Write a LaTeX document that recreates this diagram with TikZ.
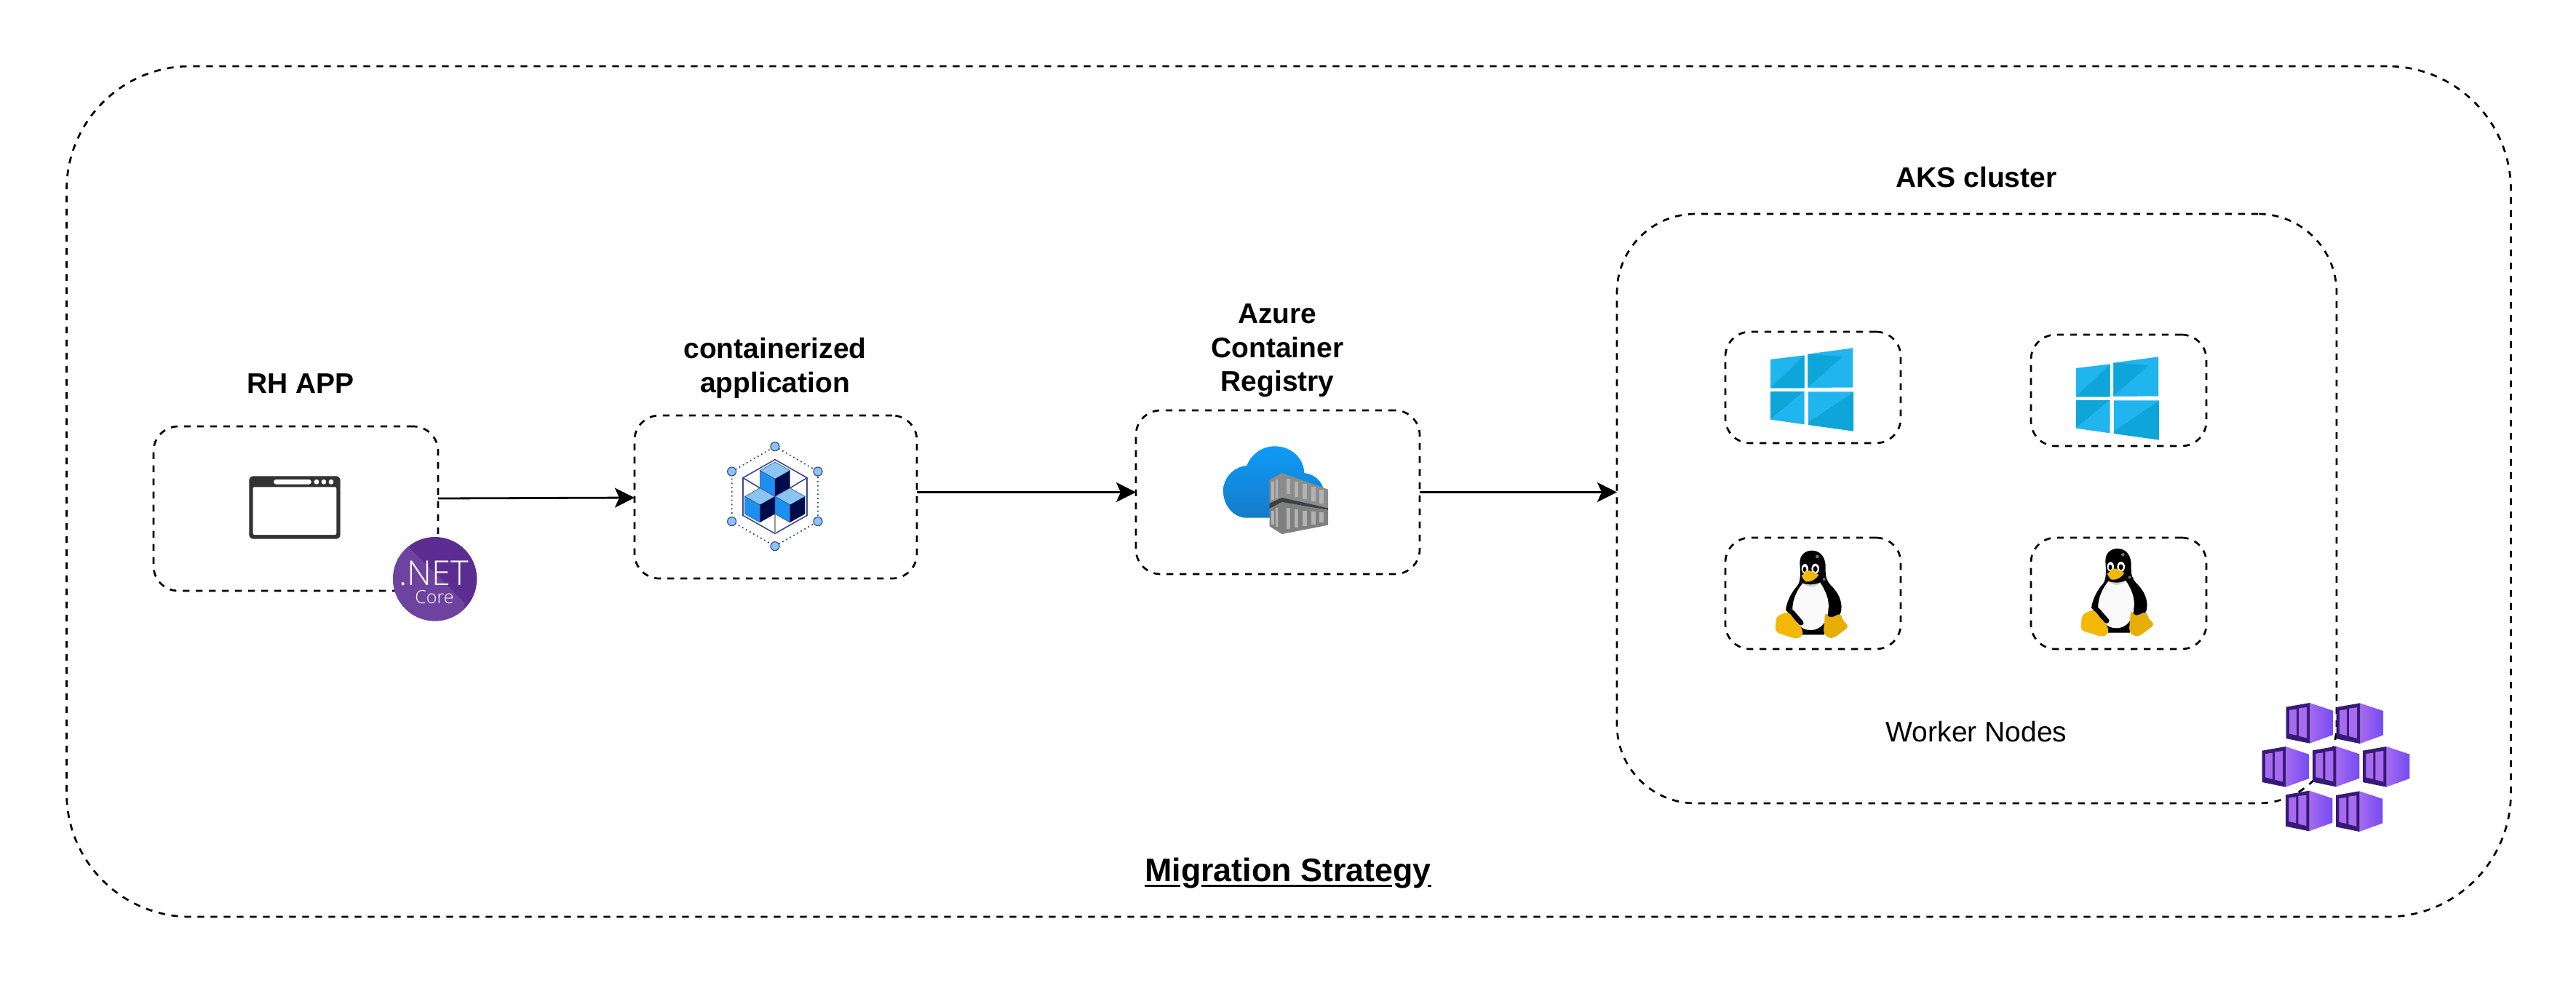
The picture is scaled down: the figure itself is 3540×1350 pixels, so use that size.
\documentclass[tikz,border=0pt]{standalone}
\usepackage{fontspec}
\setmainfont{Liberation Sans}
\newfontfamily\netfont{Open Sans Light}
\usetikzlibrary{arrows.meta}
\definecolor{winlight}{HTML}{20B5EF}
\definecolor{windark}{HTML}{0EA5D8}
\definecolor{netdark}{HTML}{5C2D91}
\definecolor{netlight}{HTML}{6E43A0}
\definecolor{cubelight}{HTML}{8AC4F5}
\definecolor{cubeblue}{HTML}{1B90EE}
\definecolor{cubenavy}{HTML}{000B4A}
\definecolor{hexline}{HTML}{3C4A8A}
\definecolor{kubedark}{HTML}{361A75}
\definecolor{kubeslat}{HTML}{A66BEE}
\definecolor{tuxgold}{HTML}{F3B706}
\tikzset{
  dashbox/.style={draw,rounded corners=#1,line width=1.35pt,dash pattern=on 4.6pt off 4.4pt,
    outer sep=0pt,inner sep=0pt},
  boldlabel/.style={font=\fontsize{19.5}{23.2}\selectfont\bfseries,align=center},
  winicon/.pic={
    \begin{scope}[scale=1/3]
      % panes
      \fill[winlight] (219,162) -- (359,145) -- (359,280) -- (219,280) -- cycle;
      \fill[windark] (359,145) -- (359,280) -- (219,280) -- cycle;
      \fill[winlight] (373,140) -- (558,115) -- (558,277) -- (373,278) -- cycle;
      \fill[windark] (373,140) -- (373,278) -- (520,150) -- cycle;
      \fill[winlight] (558,115) -- (558,277) -- (373,278) -- cycle;
      \fill[windark] (219,294) -- (359,294) -- (219,410) -- cycle;
      \fill[winlight] (359,294) -- (359,430) -- (219,410) -- cycle;
      \fill[winlight] (375,295) -- (561,295) -- (375,420) -- cycle;
      \fill[windark] (561,295) -- (561,458) -- (375,432) -- (375,420) -- cycle;
    \end{scope}
  },
  tuxicon/.pic={
    \begin{scope}[scale=1/3]
      % body
      \fill[black] (390,950) .. controls (430,950) and (447,985) .. (446,1020)
        .. controls (445,1060) and (450,1075) .. (470,1095)
        .. controls (500,1125) and (515,1160) .. (511,1195)
        .. controls (510,1215) and (495,1230) .. (470,1235)
        -- (440,1297) -- (350,1297) -- (310,1225)
        -- (282,1195) .. controls (285,1160) and (310,1115) .. (330,1095)
        .. controls (345,1075) and (342,1040) .. (340,1000)
        .. controls (340,970) and (360,950) .. (390,950) -- cycle;
      \fill[black!55] (412,975) circle (7);
      \fill[black!55] (440,1068) circle (6);
      % belly
      \fill[white!98!black] (352,1085) .. controls (375,1095) and (400,1095) .. (424,1082)
        .. controls (445,1115) and (462,1150) .. (458,1190)
        .. controls (455,1245) and (425,1278) .. (385,1278)
        .. controls (345,1278) and (320,1250) .. (310,1195)
        .. controls (308,1155) and (330,1110) .. (352,1085) -- cycle;
      \fill[black!18] (352,1085) .. controls (375,1105) and (400,1105) .. (424,1082)
        .. controls (400,1092) and (375,1092) .. (352,1085) -- cycle;
      \draw[black,line width=3.5pt,line cap=round] (308,1205) -- (345,1248);
      \draw[black,line width=3.5pt,line cap=round] (468,1195) -- (490,1215);
      % eyes
      \fill[white] (361,1025) ellipse (14 and 20);
      \fill[white] (404,1025) ellipse (16 and 21);
      \fill[black] (360,1027) ellipse (7 and 11);
      \fill[black] (404,1026) ellipse (9 and 12);
      % beak
      \fill[tuxgold] (347,1053) .. controls (358,1048) and (365,1032) .. (378,1032)
        .. controls (392,1036) and (408,1044) .. (418,1050)
        .. controls (408,1068) and (385,1082) .. (365,1078)
        .. controls (357,1072) and (350,1062) .. (347,1053) -- cycle;
      % feet
      \fill[tuxgold,rounded corners=2.5pt] (243,1222) -- (292,1200)
        .. controls (310,1225) and (335,1255) .. (352,1275)
        -- (352,1304) -- (325,1314) -- (238,1286) -- cycle;
      \fill[tuxgold!95!black,rounded corners=2.5pt] (445,1203) -- (462,1230) -- (510,1208)
        -- (516,1238) -- (544,1262) -- (482,1310) -- (458,1312) -- (437,1290) -- cycle;
    \end{scope}
  },
  kubebox/.pic={
    \begin{scope}[scale=1/3]
      \shade[left color=kubeslat,right color=kubeslat!70!blue] (342,78) -- (438,110) -- (438,210) -- (342,245) -- cycle;
      \fill[kubedark] (245,95) -- (342,78) -- (342,245) -- (245,225) -- cycle;
      \fill[kubeslat] (258,108) -- (288,104) -- (288,212) -- (258,205) -- cycle;
      \fill[kubeslat] (297,100) -- (330,96) -- (330,223) -- (297,215) -- cycle;
    \end{scope}
  }
}
\begin{document}
\begin{tikzpicture}[x=0.5pt,y=-0.5pt,>={Stealth[length=13.5pt,width=13.5pt,inset=3pt]}]
\useasboundingbox (0,0) rectangle (3540,1350);
%migration frame
\node[dashbox=85pt,minimum width=1679.5pt,minimum height=584.5pt] (strategy) at (1771,675.5) {};
\node[font=\fontsize{22.4}{26}\selectfont\bfseries,anchor=base] (strategytxt) at (1770,1211) {Migration Strategy};
\draw[line width=1.5pt] (1572.7,1217) -- (1621.7,1217) (1650.7,1217) -- (1913,1217) (1962,1217) -- (1967,1217);
%app box
\node[dashbox=17pt,minimum width=195.5pt,minimum height=113pt] (rhapp) at (406.5,699) {};
\node[boldlabel] (rhapptxt) at (413,527) {RH APP};
%browser icon
\node[fill=black!80,rounded corners=3pt,minimum width=62.7pt,minimum height=43.2pt,inner sep=0pt] (browser) at (405,697.5) {};
\node[fill=white,rounded corners=1pt,minimum width=57.3pt,minimum height=32.8pt,inner sep=0pt] (browserwin) at (405,702.2) {};
\node[fill=white,rounded corners=1.6pt,minimum width=25.8pt,minimum height=3.3pt,inner sep=0pt] (browserbar) at (402,662.3) {};
\foreach \x in {435,445,455}
  \fill[white] (\x,662.3) circle (3.4);
%net core badge
\node[circle,fill=netdark,minimum size=57.7pt,inner sep=0pt] (netcore) at (597.7,795.7) {};
\begin{scope}
  \clip (597.7,795.7) circle (57.7);
  \fill[netlight] (558,748) -- (638,828) -- (638,860) -- (530,860) -- (530,748) -- cycle;
\end{scope}
\node[text=white,font=\netfont\fontsize{23.5}{24}\selectfont,inner sep=0pt] (nettxt) at (596.5,788) {.NET};
\node[text=white,font=\netfont\fontsize{12.5}{13}\selectfont,inner sep=0pt] (coretxt) at (597,821) {Core};
%container box
\node[dashbox=17pt,minimum width=194pt,minimum height=112pt] (capp) at (1066,683) {};
\node[boldlabel] (capptxt) at (1065,506) {containerized\\application};
%container icon
\begin{scope}[shift={(940,600)},scale=1/3]
  \draw[hexline,dotted,line width=0.9pt] (375,41) -- (552,144) -- (552,350) -- (375,452) -- (197,350) -- (197,144) -- cycle;
  \foreach \x/\y in {375/41,552/144,552/350,375/452,197/350,197/144}
    \filldraw[fill=cubelight,draw=hexline,line width=0.6pt] (\x,\y) circle (18);
  \draw[hexline,line width=0.8pt] (375,95) -- (507,170) -- (507,325) -- (375,400) -- (243,325) -- (243,170) -- cycle;
  \draw[hexline,line width=0.8pt] (243,170) -- (313,212) (507,170) -- (437,212);
  \draw[black!40,line width=1.2pt] (375,320) -- (375,400);
  \foreach \dx/\dy in {0/0,-62/107,62/107}
  {
    \begin{scope}[shift={(\dx,\dy)}]
      \filldraw[fill=cubelight,draw=hexline,line width=0.3pt] (375,105) -- (437,140) -- (375,175) -- (313,140) -- cycle;
      \filldraw[fill=cubeblue,draw=hexline,line width=0.3pt] (313,140) -- (375,175) -- (375,247) -- (313,212) -- cycle;
      \fill[cubenavy] (375,175) -- (437,140) -- (437,212) -- (375,247) -- cycle;
    \end{scope}
  }
\end{scope}
%registry box
\node[dashbox=17pt,minimum width=195pt,minimum height=112.5pt] (acr) at (1756,676.5) {};
\node[boldlabel] (acrtxt) at (1755.5,482) {Azure\\Container\\Registry};
%registry icon
\begin{scope}[shift={(1640,590)},scale=1/3]
  \shade[top color=blue!35!cyan!50!cubeblue,bottom color=cubeblue!85!black]
    (220,150) .. controls (240,100) and (285,70) .. (335,70)
    .. controls (405,70) and (455,120) .. (457,180)
    .. controls (500,185) and (530,215) .. (537,250)
    -- (500,365) -- (215,365)
    .. controls (165,362) and (123,315) .. (123,255)
    .. controls (123,200) and (165,155) .. (220,150) -- cycle;
  \fill[black!45] (314,208) -- (365,180) -- (555,248) -- (555,325) -- (365,282) -- (314,305) -- cycle;
  \fill[black!75] (314,305) -- (365,282) -- (555,325) -- (555,333) -- (365,300) -- (314,327) -- cycle;
  \fill[black!50] (314,327) -- (365,300) -- (555,333) -- (555,395) -- (365,432) -- (314,400) -- cycle;
  \foreach \xa/\xb/\ya/\yb in {383/400/205/268,417/433/215/280,451/469/226/288,486/503/238/298,520/537/248/306}
    \fill[black!30] (\xa,\ya) rectangle (\xb,\yb);
  \foreach \xa/\xb/\ya/\yb in {383/400/325/410,417/433/330/405,451/469/335/398,486/503/338/392,520/537/343/385}
    \fill[black!30] (\xa,\ya) rectangle (\xb,\yb);
  \foreach \xa/\xb/\ya/\yb in {322/332/215/290,338/348/208/285,322/332/335/393,338/348/325/402}
    \fill[black!30] (\xa,\ya) rectangle (\xb,\yb);
\end{scope}
%aks cluster
\node[dashbox=54pt,minimum width=494.5pt,minimum height=405pt] (aks) at (2716.5,699) {};
\node[boldlabel] (akstxt) at (2716,244) {AKS cluster};
\node[font=\fontsize{19.5}{23.2}\selectfont] (workertxt) at (2716,1006) {Worker Nodes};
%worker nodes
\foreach \n/\x/\y in {wina/2491.5/532.5,winb/2911.5/536.5,tuxa/2491.5/815.5,tuxb/2911.5/815.5}
  \node[dashbox=17pt,minimum width=120.5pt,minimum height=76.5pt] (\n) at (\x,\y) {};
\pic at (2360,440) {winicon};
\pic at (2780,452) {winicon};
\pic at (2360,440) {tuxicon};
\pic at (2780,437.3) {tuxicon};
%kubernetes icon
\foreach \dx/\dy in {0/0,207/1,-99/180,109/179,316/180,-2/362,205/364}
  \pic at (3060+\dx/3,940+\dy/3) {kubebox};
%links
\draw[->,line width=1.4pt] ([yshift=7pt]rhapp.east) -- ([yshift=-0.5pt]capp.west);
\draw[->,line width=1.4pt] (capp.east |- acr.west) -- (acr.west);
\draw[->,line width=1.4pt] (acr.east) -- (acr.east -| aks.west);
\end{tikzpicture}
\end{document}
